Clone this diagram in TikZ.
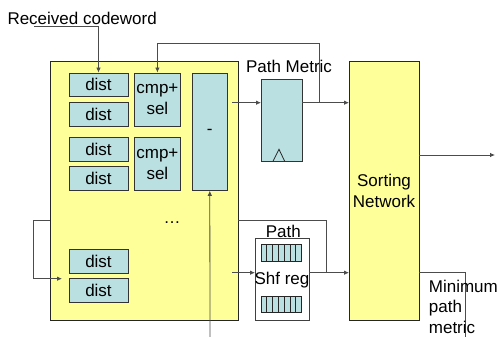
\documentclass[tikz,border=0pt]{standalone}
\usepackage{fontspec}
\setmainfont{Liberation Sans}
\usetikzlibrary{arrows.meta}
\definecolor{yel}{HTML}{FFFF99}
\definecolor{cy}{HTML}{BBE0E2}
\begin{document}
\begin{tikzpicture}[x=1pt,y=-1pt,
  font=\fontsize{17}{20.5}\selectfont,
  yelbox/.style={draw=black!85, fill=yel, line width=0.9pt, inner sep=0pt},
  cybox/.style={draw=black!80, fill=cy, line width=0.9pt, inner sep=0pt},
  regbox/.style={draw=black!75, fill=white, line width=0.9pt, inner sep=0pt},
  wire/.style={draw=black!70, line width=0.8pt},
  arr/.style={wire, -{Latex[length=5pt,width=4.5pt]}},
  lbl/.style={inner sep=0pt}]
\useasboundingbox (0,0) rectangle (498,337);

% big yellow box and sorting network
\node[yelbox, minimum width=188pt, minimum height=259pt] (big) at (144,190.5) {};
\node[yelbox, minimum width=70pt, minimum height=258.7pt, align=center] (sn) at (384,190.7) {Sorting\\Network};

% dist boxes
\foreach \n/\y in {d1/84.9, d2/114.2, d3/149.4, d4/178.7, d5/261.3, d6/290.7}
  \node[cybox, minimum width=59pt, minimum height=23.7pt] (\n) at (98.5,\y) {dist};

% cmp+sel boxes
\node[cybox, minimum width=46.7pt, minimum height=53pt, align=center, font=\fontsize{17}{21}\selectfont] (c1) at (157.4,99.5) {cmp+\\sel};
\node[cybox, minimum width=46.7pt, minimum height=53pt, align=center, font=\fontsize{17}{21}\selectfont] (c2) at (157.4,164.2) {cmp+\\sel};

% subtract box
\node[cybox, minimum width=35pt, minimum height=117.3pt] (minus) at (209.8,131.7) {-};

\node[lbl, anchor=base] (dots) at (172,223) {\dots};

% path metric register
\node[cybox, minimum width=41.3pt, minimum height=82.3pt] (pm) at (281.7,120.2) {};
\draw[black!85, line width=0.8pt] (273,161.3) -- (279,149.3) -- (284.7,161.3);
\node[lbl] (pmlbl) at (289,66.7) {Path Metric};

% path shift register
\node[regbox, minimum width=54pt, minimum height=81.7pt] (shf) at (282,279.2) {};
\node[lbl, anchor=base] (shflbl) at (282,284) {Shf reg};
\node[lbl] (pathlbl) at (283.3,231) {Path};
\foreach \yt/\yb in {244.3/261, 296/312.7}{
  \fill[cy] (261,\yt) rectangle (301.7,\yb);
  \foreach \i in {0,...,7}
    \draw[black!85, line width=0.8pt] ({261+\i*5.814},\yt) -- ({261+\i*5.814},\yb);
  \draw[black!85, line width=0.8pt] (261,\yt) rectangle (301.7,\yb);
}

% received codeword
\node[lbl, anchor=base west] (rc) at (7.3,25) {Received codeword};
\coordinate (rcs) at (34,26);
\draw[arr] (rcs) -| (d1.north);

% path metric wires
\coordinate (ms) at (232,102.7);
\coordinate (pmi) at (261,102.7);
\coordinate (pmo) at (302.3,102.7);
\coordinate (j1) at (319.3,102.7);
\coordinate (sni) at (349,102.7);
\draw[arr] (ms) -- (pmi);
\draw[arr] (pmo) -- (sni);
\draw[arr] (j1) -- (319.3,43.3) -| (c1.north);

% subtract input from below
\coordinate (bin) at (210,337);
\draw[arr] (bin) -- (minus.south);

% path wires
\coordinate (ps) at (232,272.7);
\coordinate (shi) at (255,272.7);
\coordinate (sho) at (309,272.7);
\coordinate (j2) at (326,272.7);
\coordinate (sn2) at (349,272.7);
\draw[arr] (ps) -- (shi);
\draw[arr] (sho) -- (sn2);
\draw[wire] (j2) -- (326,220) -- (238,220);
\draw[arr] (50,220) -- (33,220) -- (33,278.7) -- (62,278.7);

% outputs
\coordinate (out) at (495,155);
\draw[arr] (sn.east |- out) -- (out);
\coordinate (mo) at (465.7,337);
\draw[wire] (419,272.7) -| (mo);
\node[lbl, anchor=base west, align=left] (minlbl) at (428.7,333) {Minimum\\path\\metric};
\end{tikzpicture}
\end{document}
